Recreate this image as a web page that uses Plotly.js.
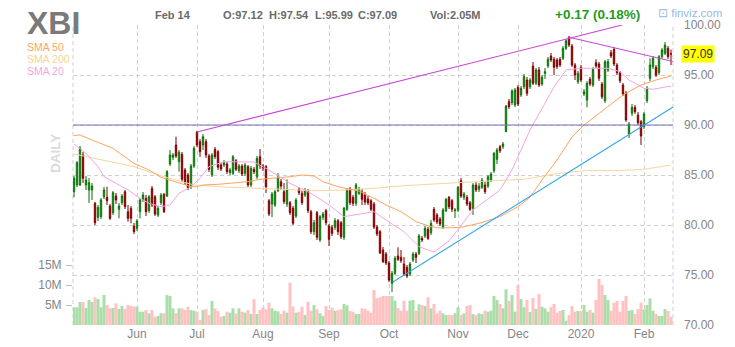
<!DOCTYPE html>
<html><head><meta charset="utf-8">
<script src="https://cdn.plot.ly/plotly-3.0.1.min.js"></script>
<style>html,body{margin:0;padding:0;background:#fff;} #chart{width:735px;height:347px;}</style>
</head><body><div id="chart"></div>
<script>
// ---- data (daily bars, May 2019 - Feb 14 2020) ----
const openP = [83.33,84.0,84.0,87.0,84.0,83.5,83.5,82.17,80.77,80.83,
82.83,82.77,81.9,81.23,82.9,81.57,82.23,83.33,81.33,81.67,
79.9,79.67,81.33,82.5,82.67,81.43,83.67,82.83,81.0,82.23,
83.07,82.9,86.1,86.77,88.0,86.33,87.07,85.5,85.0,83.83,
85.9,89.27,88.33,88.0,88.33,86.9,85.0,87.57,87.33,86.0,
86.0,86.1,85.23,85.17,86.43,85.43,85.9,85.17,85.83,84.0,
85.57,84.83,86.83,85.9,85.83,82.43,82.1,82.0,83.43,84.33,
83.33,82.1,82.23,81.67,80.9,83.57,83.17,83.0,83.43,81.33,
79.33,81.23,78.5,80.77,81.43,79.9,79.77,79.77,80.43,80.23,
78.77,81.57,83.57,82.77,82.17,83.17,83.3,83.0,82.6,82.43,
82.1,79.8,79.33,77.5,77.1,76.2,74.17,75.17,76.9,76.77,
76.1,75.77,75.1,76.5,77.1,77.17,78.67,78.9,79.57,79.23,
81.57,81.0,80.6,79.77,81.43,82.77,82.43,81.43,81.5,84.43,
82.77,82.77,82.23,81.67,84.0,83.57,83.77,84.0,83.9,84.5,
85.43,86.57,87.83,87.83,89.33,92.33,92.23,92.0,93.77,93.0,
93.83,94.5,93.83,95.9,94.17,95.5,94.1,95.17,95.9,96.9,
96.57,96.5,96.57,96.67,97.67,98.77,97.9,96.0,94.33,95.77,
93.1,92.5,94.57,94.0,96.23,96.1,94.1,92.43,95.5,97.23,
97.57,96.0,95.23,94.0,93.17,89.1,91.17,91.77,91.0,90.33,
89.83,92.43,94.67,95.83,95.77,95.23,96.83,97.17,97.67,97.12];
const highP = [84.9,86.4,87.9,87.3,84.9,84.7,84.2,82.3,82.0,82.7,
83.8,83.83,82.1,83.4,83.2,82.2,83.1,83.5,82.0,81.9,
80.2,80.6,82.7,83.3,83.0,83.0,83.9,83.0,81.9,83.2,
83.2,85.5,87.5,87.2,88.83,87.5,87.3,85.7,85.2,86.1,
87.9,89.4,88.6,89.1,88.6,87.1,87.2,87.8,87.5,86.2,
86.5,86.3,85.7,87.0,86.6,86.1,86.1,86.2,86.0,85.9,
85.8,86.9,87.6,86.1,86.0,82.6,83.3,83.5,85.2,84.6,
84.2,84.57,82.4,81.9,82.7,83.8,83.4,83.7,83.6,81.5,
80.5,81.4,81.0,81.3,81.6,80.1,80.0,80.7,80.6,80.4,
81.8,83.7,83.8,83.0,84.2,83.8,83.6,83.3,82.9,82.6,
82.3,80.0,79.5,77.8,77.3,76.4,75.4,76.9,77.77,77.5,
76.8,76.0,76.3,77.3,77.3,79.1,78.9,79.9,79.8,80.5,
81.8,81.2,80.8,81.7,82.7,82.9,82.6,81.7,83.9,84.7,
83.3,83.0,82.4,84.2,84.3,84.2,84.7,84.3,85.0,85.3,
87.3,87.7,88.0,88.3,92.0,92.6,93.6,93.7,94.0,93.9,
95.1,94.8,94.7,96.3,95.7,95.8,95.0,95.7,96.8,97.2,
96.8,96.7,96.8,97.9,98.6,98.9,98.1,96.2,95.4,96.0,
93.6,94.4,94.8,95.8,96.57,96.3,94.3,96.5,96.6,97.5,
97.8,96.2,95.4,94.2,93.4,90.3,92.1,92.0,91.3,90.5,
91.3,93.9,96.67,96.9,96.0,97.0,97.7,98.3,97.9,97.54];
const lowP = [82.77,83.8,83.9,84.2,83.5,82.2,82.5,80.0,80.4,80.6,
82.6,82.0,80.5,81.0,82.1,80.67,82.0,81.6,80.33,80.17,
79.1,79.4,80.67,82.3,80.9,81.2,81.8,80.9,80.8,82.0,
81.2,82.8,85.9,86.5,86.7,85.33,84.3,84.0,83.5,83.6,
85.7,87.8,86.8,87.5,86.7,85.3,84.8,86.6,85.5,85.4,
85.8,85.1,85.0,85.0,85.4,85.2,84.9,84.9,83.8,83.8,
85.1,84.6,85.6,85.4,83.2,80.9,80.8,81.8,83.3,83.5,
82.1,81.8,81.0,80.0,80.7,83.0,82.0,82.8,81.2,79.1,
79.0,78.5,78.3,80.5,80.0,77.9,78.9,79.5,79.0,78.6,
78.5,81.4,82.0,81.9,81.9,83.0,82.0,82.0,82.0,81.4,
79.6,78.9,77.1,76.2,76.0,74.3,73.3,75.0,76.4,76.2,
74.9,74.7,74.9,76.3,76.2,77.0,78.3,78.7,78.5,79.0,
80.3,80.1,79.9,79.6,81.3,81.6,81.3,80.7,81.3,82.7,
82.5,81.9,81.4,81.0,83.3,83.3,83.6,83.1,83.7,84.3,
85.2,86.1,87.2,87.6,89.3,91.6,92.0,91.8,91.9,92.8,
93.6,92.9,93.6,94.0,94.0,93.8,93.9,94.6,95.7,96.3,
95.0,95.6,95.8,96.5,97.5,97.8,95.8,94.5,94.1,94.3,
92.9,91.77,93.9,93.8,95.7,94.4,92.6,92.2,95.3,96.7,
95.9,95.0,94.2,92.9,90.3,88.7,90.9,91.1,90.0,88.0,
89.6,92.2,94.4,95.6,94.8,95.0,96.6,97.0,96.6,95.99];
const closeP = [84.67,86.23,87.67,84.67,84.5,84.23,83.9,80.23,81.77,82.5,
83.5,82.43,80.67,83.23,82.5,81.9,82.9,81.83,80.67,80.67,
79.33,80.4,82.5,83.0,81.33,82.83,82.0,81.1,81.67,83.0,
81.33,85.33,87.0,87.0,86.9,87.27,84.57,84.23,83.73,85.9,
87.67,88.0,87.33,88.83,87.0,85.57,87.0,86.83,85.77,85.6,
86.23,85.33,85.5,86.83,85.57,85.9,85.1,86.0,84.0,85.67,
85.33,86.67,85.9,85.7,83.83,81.1,83.1,83.33,84.77,83.9,
82.33,83.57,81.23,80.17,82.5,83.23,82.23,83.43,81.43,79.33,
80.23,78.77,80.83,81.1,80.23,78.57,79.17,80.43,79.33,78.83,
81.67,83.5,82.23,82.17,84.0,83.57,82.57,82.3,82.2,81.57,
79.8,79.1,77.2,76.33,76.2,74.5,75.17,76.67,76.57,76.43,
75.1,74.9,76.1,77.1,76.77,78.9,78.5,79.67,78.67,80.17,
80.5,80.3,80.1,81.5,82.57,81.83,81.57,81.5,83.77,82.9,
83.1,82.1,81.57,84.0,83.5,83.9,84.5,83.33,84.83,85.1,
87.17,87.5,87.43,88.1,91.9,91.83,93.4,93.5,92.1,93.67,
94.83,93.17,94.5,94.17,95.5,94.0,94.77,95.33,96.57,96.5,
95.77,95.83,96.0,97.67,98.43,98.0,96.0,95.0,95.17,94.5,
93.33,94.17,94.1,95.57,95.9,94.67,92.83,96.33,96.33,96.9,
96.1,95.23,94.43,93.1,90.5,90.1,91.77,91.33,90.23,88.9,
91.1,93.67,96.0,96.67,95.0,96.83,97.5,98.0,96.83,97.09];
const volumeM = [4.42,4.42,5.75,5.75,4.25,6.25,5.75,6.92,6.5,4.42,
7.5,5.0,4.17,4.25,5.42,4.0,4.75,4.0,5.0,4.75,
4.58,4.58,3.33,3.33,3.75,2.92,3.75,2.08,2.25,2.92,
2.92,7.5,7.25,4.17,2.92,4.17,4.17,3.75,4.58,3.75,
3.58,3.33,1.25,3.75,4.0,2.5,6.0,4.17,3.5,2.08,
2.25,3.33,3.08,4.17,2.92,4.17,3.33,3.08,3.75,2.75,
6.42,2.75,3.75,4.42,3.92,5.58,4.17,3.58,3.42,2.75,
3.58,3.08,10.58,4.58,3.08,3.33,4.58,2.5,5.83,3.58,
5.0,3.92,2.92,2.25,4.75,3.75,4.33,3.58,3.75,3.92,
5.25,4.92,3.5,3.33,2.75,2.75,4.17,4.0,3.58,3.08,
8.75,6.67,6.92,7.25,7.25,7.25,7.25,6.08,4.25,3.58,
6.08,3.58,6.08,6.25,3.58,5.17,5.0,4.75,6.92,4.17,
5.25,2.92,3.58,2.92,2.5,2.5,2.5,2.92,4.42,2.5,
2.92,4.75,5.0,2.75,2.5,2.92,2.75,3.58,3.33,3.58,
7.25,6.25,5.25,4.17,8.92,6.0,7.5,3.33,10.0,6.5,
4.42,6.25,3.25,6.75,4.0,7.75,4.58,4.17,3.33,4.5,
5.25,3.08,3.5,3.75,1.08,2.5,4.75,3.33,3.5,3.5,
5.0,3.33,3.75,3.08,6.25,11.5,10.0,7.5,6.25,3.58,
5.58,6.0,3.33,6.0,7.25,3.58,3.75,2.75,4.0,5.58,
3.92,5.0,6.67,3.58,2.75,2.25,2.25,4.0,3.5,2.05];

const monthTickIdx = [21,41,63,85,105,128,148,169,190];
const monthTickText = ['Jun','Jul','Aug','Sep','Oct','Nov','Dec','2020','Feb'];
const priceTicks = [70,75,80,85,90,95,100];
const volTicks = [5,10,15];
const volTickText = ['5M','10M','15M'];

const sma20Idx = [0,4,8,10,13,18,22,25,29,32,35,39,42,45,50,55,60,65,72,79,85,90,95,100,104,110,115,120,125,133,142,146,152,160,164,169,178,182,185,190,193,199];
const sma20Val = [88.1,87.17,85.83,84.83,84.33,83.5,82.67,82.17,81.83,82.0,83.17,83.83,84.67,85.83,86.33,86.33,86.3,85.5,84.17,83.17,82.0,80.83,81.1,81.33,80.5,79.33,77.83,77.3,78.4,81.5,83.5,85.5,89.5,93.8,95.5,95.67,95.67,95.33,94.5,93.67,93.57,93.9];
const sma50Idx = [0,2,6,10,13,16,20,22,25,29,32,35,39,41,43,48,53,58,62,66,72,76,80,83,88,92,95,100,104,109,114,119,122,129,135,142,148,152,156,161,166,170,178,183,189,194,199];
const sma50Val = [88.95,89.0,88.5,88.0,87.67,87.0,86.17,85.9,85.5,84.77,84.5,84.17,83.83,83.83,84.0,84.07,84.17,84.33,84.57,84.67,84.83,85.0,84.9,84.33,83.83,83.57,83.4,82.67,82.0,81.33,80.33,79.83,79.7,79.77,80.17,80.83,81.83,82.77,84.5,86.5,88.8,90.0,91.83,93.0,94.0,94.5,94.9];
const sma200Idx = [0,10,20,30,40,50,60,70,80,90,100,110,120,130,140,150,160,170,180,190,199];
const sma200Val = [87.1,86.43,85.83,84.83,84.0,83.8,83.65,83.57,83.43,83.5,83.67,83.93,84.1,84.23,84.43,84.57,85.1,85.43,85.43,85.57,86.0];

const trendUpIdx = [41, 182.7], trendUpVal = [89.3, 100.0];
const trendDownIdx = [164.7, 199.7], trendDownVal = [98.8, 96.35];
const supportIdx = [106.3, 199.7], supportVal = [74.3, 91.8];
const hLevel = 90;
const lastClose = 97.09;
const ticker = 'XBI';
const headerDate = 'Feb 14';
const ohlcText = ['O:97.12','H:97.54','L:95.99','C:97.09'];
const volText = 'Vol:2.05M';
const changeText = '+0.17 (0.18%)';

// ---- build ----
const barIdx = openP.map((_, i) => i);
const volColors = barIdx.map(i => closeP[i] >= openP[i] ? '#a9dea9' : '#ffc1c1');
const FONT = 'Arial, "Liberation Sans", sans-serif';
const grid = '#d0d0d0';
const dash = '4px,3px';

const traces = [
  {type:'bar', x:barIdx, y:volumeM, yaxis:'y', xaxis:'x', marker:{color:volColors, line:{width:0}}, width:1, hoverinfo:'skip'},
  {type:'scatter', mode:'lines', x:sma200Idx, y:sma200Val, yaxis:'y2', line:{color:'#f5d79c', width:1}, hoverinfo:'skip'},
  {type:'scatter', mode:'lines', x:sma50Idx, y:sma50Val, yaxis:'y2', line:{color:'#ffa45e', width:1}, hoverinfo:'skip'},
  {type:'scatter', mode:'lines', x:sma20Idx, y:sma20Val, yaxis:'y2', line:{color:'#f3a6e2', width:1}, hoverinfo:'skip'},
  {type:'candlestick', x:barIdx, open:openP, high:highP, low:lowP, close:closeP, yaxis:'y2',
   increasing:{line:{color:'#0a6e0a', width:1}, fillcolor:'#1ccc1c'},
   decreasing:{line:{color:'#7a0000', width:1}, fillcolor:'#d40000'}, hoverinfo:'skip'},
  {type:'scatter', mode:'lines', x:trendUpIdx, y:trendUpVal, yaxis:'y2', line:{color:'#c847d8', width:1.1}, hoverinfo:'skip'},
  {type:'scatter', mode:'lines', x:trendDownIdx, y:trendDownVal, yaxis:'y2', line:{color:'#c847d8', width:1.1}, hoverinfo:'skip'},
  {type:'scatter', mode:'lines', x:supportIdx, y:supportVal, yaxis:'y2', line:{color:'#33a4ec', width:1.1}, hoverinfo:'skip'}
];

function px(x){return (x-73)/600;}
function py(y){return (325-y)/300;}
const gray = '#6a6a6a';
const annotations = [
  {text:'<b>'+ticker+'</b>', x:px(25), y:py(23), xanchor:'left', yanchor:'middle', font:{family:FONT,size:32,color:'#7a7a7a'}},
  {text:'SMA 50', x:px(25), y:py(47), xanchor:'left', yanchor:'middle', font:{family:FONT,size:10.5,color:'#ffa45e'}},
  {text:'SMA 200', x:px(25), y:py(59), xanchor:'left', yanchor:'middle', font:{family:FONT,size:10.5,color:'#f3d59a'}},
  {text:'SMA 20', x:px(25), y:py(71), xanchor:'left', yanchor:'middle', font:{family:FONT,size:10.5,color:'#f3a6e2'}},
  {text:'<b>'+headerDate+'</b>', x:px(153), y:py(15), xanchor:'left', yanchor:'middle', font:{family:FONT,size:11,color:gray}},
  {text:'<b>'+ohlcText[0]+'</b>', x:px(221), y:py(15), xanchor:'left', yanchor:'middle', font:{family:FONT,size:11,color:gray}},
  {text:'<b>'+ohlcText[1]+'</b>', x:px(267), y:py(15), xanchor:'left', yanchor:'middle', font:{family:FONT,size:11,color:gray}},
  {text:'<b>'+ohlcText[2]+'</b>', x:px(313), y:py(15), xanchor:'left', yanchor:'middle', font:{family:FONT,size:11,color:gray}},
  {text:'<b>'+ohlcText[3]+'</b>', x:px(356), y:py(15), xanchor:'left', yanchor:'middle', font:{family:FONT,size:11,color:gray}},
  {text:'<b>'+volText+'</b>', x:px(428), y:py(15), xanchor:'left', yanchor:'middle', font:{family:FONT,size:11,color:gray}},
  {text:'<b>'+changeText+'</b>', x:px(553), y:py(14), xanchor:'left', yanchor:'middle', font:{family:FONT,size:13.5,color:'#1f9b1f'}},
  {text:'⊡ finviz.com', x:px(656), y:py(13), xanchor:'left', yanchor:'middle', font:{family:FONT,size:11.5,color:'#93bbe2'}},
  {text:'<b>DAILY</b>', x:px(55), y:py(154), xanchor:'center', yanchor:'middle', textangle:-90, font:{family:FONT,size:13.5,color:'#dadada'}},
  {text:lastClose.toFixed(2), x:1, xref:'paper', xanchor:'left', xshift:8, y:lastClose, yref:'y2', yanchor:'middle', bgcolor:'#ffff00', borderpad:1, font:{family:FONT,size:12,color:'#333'}}
].map(a => Object.assign({xref:'paper', yref:'paper', showarrow:false}, a));

const layout = {
  width:735, height:347,
  margin:{l:73, r:62, t:25, b:22, pad:0},
  paper_bgcolor:'#fff', plot_bgcolor:'#fff',
  showlegend:false, boxgap:0.33,
  xaxis:{range:[-1/3, 199+2/3], tickvals:monthTickIdx, ticktext:monthTickText, showgrid:true, gridcolor:grid, griddash:dash, gridwidth:1,
         zeroline:false, showline:false, ticks:'', tickfont:{family:FONT,size:12,color:'#858585'}, rangeslider:{visible:false}, fixedrange:true},
  yaxis:{range:[0,75], side:'left', tickvals:volTicks, ticktext:volTickText, showgrid:false, zeroline:false, showline:false,
         ticks:'outside', ticklen:6, tickcolor:'#bbbbbb', ticklabelstandoff:2, tickfont:{family:FONT,size:12,color:'#858585'}},
  yaxis2:{range:[70,100], overlaying:'y', side:'right', tickvals:priceTicks, tickformat:'.2f', showgrid:true, gridcolor:grid, griddash:dash,
          zeroline:false, showline:false, ticks:'', ticklabelstandoff:10, tickfont:{family:FONT,size:12,color:'#858585'}},
  shapes:[
    {type:'line', xref:'paper', yref:'paper', x0:0, x1:0, y0:0, y1:1, line:{color:grid, width:1, dash:dash}, layer:'below'},
    {type:'line', xref:'paper', yref:'paper', x0:1, x1:1, y0:0, y1:1, line:{color:grid, width:1, dash:dash}, layer:'below'},
    {type:'line', xref:'paper', yref:'y2', x0:0, x1:1, y0:hLevel, y1:hLevel, line:{color:'#7373b5', width:1.1}, layer:'above'}
  ],
  annotations:annotations
};
Plotly.newPlot('chart', traces, layout, {staticPlot:true, displayModeBar:false});
</script>
</body></html>
